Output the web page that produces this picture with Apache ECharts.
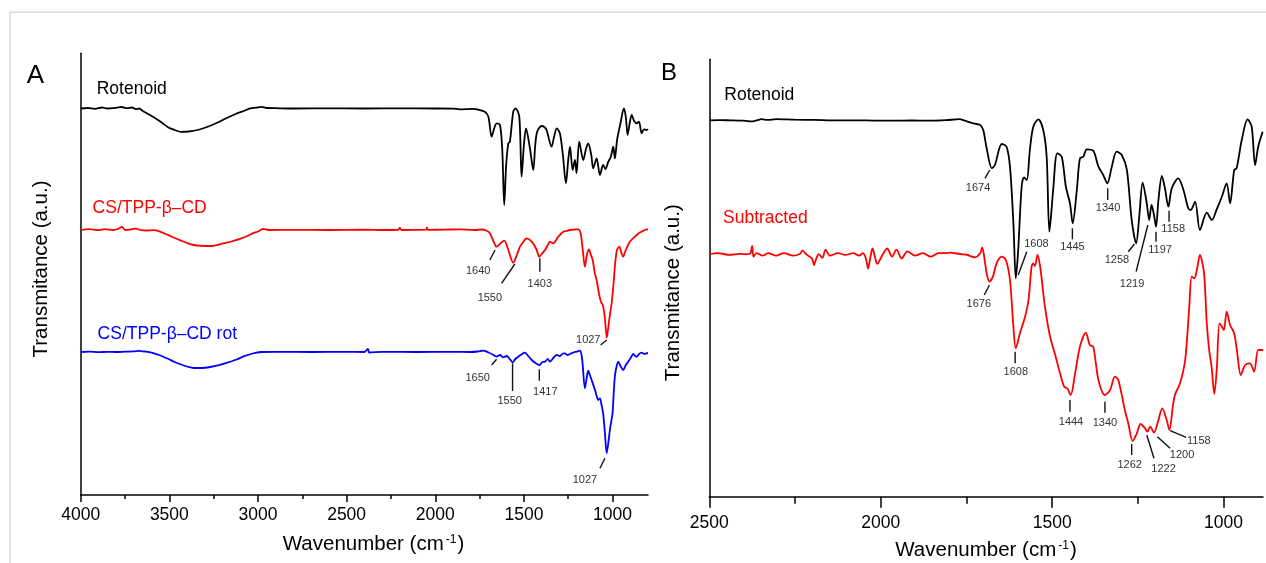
<!DOCTYPE html>
<html><head><meta charset="utf-8">
<script src="https://cdn.jsdelivr.net/npm/echarts@6/dist/echarts.min.js"></script>
<style>html,body{margin:0;padding:0;background:#fff}#c{width:1266px;height:563px}</style>
</head><body><div id="c"></div>
<script>
const FONT = '"Liberation Sans", Arial, Helvetica, sans-serif';

// ---- Tick values ----
const ticksA = [4000, 3500, 3000, 2500, 2000, 1500, 1000];
const minorA = [3750, 3250, 2750, 2250, 1750, 1250];
const ticksB = [2500, 2000, 1500, 1000];
const minorB = [2250, 1750, 1250];

// ---- Panel A spectra: [wavenumber, transmittance (a.u., offset)] ----
const rotenoidA = [[4000,386.5],[3960,387],[3920,386.2],[3880,387.5],[3850,386.5],[3800,387.2],[3770,388],[3740,386.8],[3710,387.5],[3690,385.8],[3670,386.5],[3650,384],[3620,381],[3577,376.5],[3540,372],[3505,367.5],[3470,365],[3434,363.2],[3390,363.5],[3340,365],[3280,368.5],[3221,373],[3170,377.5],[3126,381],[3080,384],[3043,386.6],[3010,387.3],[2980,388.2],[2950,387],[2900,386.8],[2800,386.5],[2600,386.7],[2400,386.5],[2200,386.6],[2000,386.5],[1900,386.4],[1861,385.7],[1790,386.2],[1760,385.5],[1720,383.3],[1700,378],[1682,358.3],[1665,368],[1654,371.7],[1635,370],[1622,345],[1611,290],[1600,330],[1588,351.7],[1579,353.3],[1560,383.3],[1547,386.7],[1526,378.3],[1513,318.3],[1500,350],[1488,366.7],[1466,346.7],[1447,325],[1436,350],[1425,363.3],[1400,369],[1385,368],[1372,365],[1344,348.3],[1330,358],[1315,366.7],[1297,361.7],[1280,340],[1263,311.7],[1250,335],[1240,348.3],[1225,325],[1212,335],[1203,321.7],[1188,353.3],[1165,335],[1150,346],[1137,351.7],[1120,340],[1109,326.7],[1090,336.7],[1071,320],[1053,330],[1040,326],[1024,333.3],[1010,338],[996,348.3],[987,336.7],[974,355.7],[955,372],[936,386.7],[925,378],[915,360],[903,372],[892,380],[878,374],[864,371.7],[851,373.3],[836,361.7],[823,365.7],[808,365],[800,366]];

const csTppA = [[4000,265.2],[3950,265.8],[3900,264.8],[3862,265.9],[3820,265],[3790,266],[3768,268.2],[3750,265],[3721,265.5],[3690,266.3],[3660,264.8],[3627,264.5],[3590,264.8],[3553,263.4],[3505,259.8],[3470,257],[3434,254.4],[3400,252],[3363,250],[3320,249.2],[3269,249],[3230,250],[3197,251.6],[3150,253.5],[3102,256.2],[3060,259],[3031,261.6],[3000,263.5],[2972,266],[2940,265],[2800,265.2],[2600,265],[2400,265.3],[2300,265],[2210,265.2],[2200,267],[2190,265],[2100,265.2],[2050,265.4],[2047,267.5],[2040,265.2],[1950,265.3],[1861,265.7],[1780,265],[1740,265.5],[1710,264.3],[1692,261.7],[1670,253],[1654,248.3],[1630,252],[1611,254.3],[1588,245],[1560,232.3],[1540,240],[1522,248.3],[1500,254],[1485,256.7],[1456,253.3],[1430,246],[1413,238.3],[1400,241],[1381,245],[1365,250],[1353,253.3],[1335,251.7],[1306,258.3],[1278,263.3],[1260,264],[1240,265],[1210,265.5],[1194,265.7],[1180,261.7],[1168,245],[1156,228.3],[1145,240],[1133,245.7],[1122,240],[1112,235],[1100,222],[1090,215],[1075,200],[1065,193],[1055,190],[1045,180],[1038,166],[1032,157.5],[1026,165],[1015,180],[1005,192],[995,210],[985,232],[975,245],[962,248.3],[950,242],[940,238.3],[930,243],[921,246.7],[902,253.3],[874,258.3],[850,262],[836,263.3],[808,265.7],[800,265.5]];

const csTppRotA = [[4000,143],[3950,143.3],[3900,142.8],[3850,143.2],[3800,143],[3750,143.4],[3700,143.6],[3672,144.2],[3640,143.5],[3601,142.4],[3550,139.5],[3505,136],[3470,133],[3434,130.5],[3400,128.5],[3363,127],[3320,127],[3269,128],[3220,129.8],[3173,132.3],[3120,135.5],[3078,138.8],[3030,141.5],[2983,143],[2900,143.2],[2700,143],[2500,143.1],[2400,143],[2380,146],[2372,142.5],[2300,143.2],[2100,143],[1900,143.1],[1800,143],[1760,143.5],[1729,144.3],[1700,142.5],[1682,141],[1654,138.3],[1635,140],[1617,137.7],[1597,139],[1580,136],[1564,132.7],[1548,136],[1532,138.3],[1510,141],[1494,142.3],[1475,139],[1456,135],[1435,132],[1413,130],[1395,133],[1381,133.3],[1365,136],[1353,133.3],[1330,138],[1315,140],[1297,139],[1280,141.5],[1269,141.7],[1255,140],[1240,141],[1220,142.5],[1203,143.3],[1184,144.3],[1175,140],[1169,131.7],[1156,106.7],[1145,118],[1137,124.3],[1128,120],[1118,115],[1099,105],[1088,98],[1081,95],[1071,96.7],[1062,90],[1053,81.7],[1043,62],[1033,41.7],[1024,52],[1015,65],[1008,73],[1000,81.7],[994,100],[987,118.3],[978,128],[968,133.3],[955,129],[940,125],[925,130],[912,133.3],[898,137],[883,141],[872,139],[864,138.3],[850,141],[836,142.3],[820,141],[808,141.7],[800,142]];

// ---- Panel B spectra ----
const rotenoidB = [[2500,376.4],[2470,376.6],[2441,376.4],[2400,376],[2373,375.3],[2360,376.5],[2348,377.5],[2330,376.8],[2305,377.5],[2250,377],[2193,376.8],[2140,376.3],[2080,376.4],[2020,376.1],[1967,376],[1910,376.2],[1854,376],[1810,376.5],[1770,377.5],[1755,376],[1742,374.6],[1730,373.4],[1710,371.7],[1701,366.7],[1691,348.4],[1676,328.4],[1667,331.7],[1647,352.7],[1633,350],[1623,330],[1613,273.4],[1606,218.4],[1599,246.7],[1589,310],[1582,319.4],[1574,316.7],[1565,346.7],[1555,370],[1540,377.4],[1526,366.7],[1516,340],[1508,265],[1497,306.7],[1485,343.4],[1472,340],[1460,310],[1448,293.4],[1440,273.4],[1428,306.7],[1419,338.4],[1409,340],[1399,347.4],[1380,346],[1365,330],[1351,321.7],[1339,313.4],[1326,330],[1312,345],[1297,341.7],[1282,326.7],[1268,276.7],[1255,253.4],[1246,280],[1236,314],[1224,293.4],[1217,276.7],[1210,291.7],[1203,281.7],[1197,270],[1190,296.7],[1180,320.7],[1171,308.4],[1161,290],[1151,308.4],[1132,318.4],[1117,306.7],[1103,288.4],[1096,286.7],[1083,295],[1069,266.7],[1049,284],[1034,276.7],[1020,287.4],[1005,300],[991,313.4],[981,293.4],[969,326.7],[962,328.4],[947,356.7],[930,377.4],[918,370],[908,331.7],[899,350],[886,365]];

const subtractedB = [[2500,242.5],[2475,243.6],[2441,241.8],[2410,242.8],[2390,242.5],[2380,243.5],[2375,250.7],[2371,240],[2362,243.6],[2345,241],[2328,243.6],[2305,241],[2283,243.6],[2255,241],[2235,243],[2229,246.1],[2215,241.8],[2200,238],[2195,231.7],[2188,238],[2181,242.5],[2170,238.9],[2161,247.1],[2148,241],[2125,243.6],[2103,241.8],[2080,243.6],[2063,241],[2052,243.6],[2043,238],[2037,228.1],[2030,240],[2024,248.2],[2017,240],[2010,232.8],[1995,241.8],[1981,248.2],[1967,240],[1954,247.1],[1939,238.2],[1922,245.4],[1900,241],[1877,243.6],[1854,240],[1832,243.6],[1810,243.6],[1798,244],[1769,242.7],[1745,241.7],[1740,240.7],[1725,239.4],[1710,243.4],[1704,249.4],[1699,241.7],[1691,223.4],[1683,215],[1673,220],[1662,233.4],[1647,240],[1635,236.7],[1623,216.7],[1613,170],[1606,148.4],[1594,163.4],[1579,180],[1569,196.7],[1560,230],[1555,233.4],[1550,230.7],[1543,241.7],[1535,230],[1521,190],[1506,160],[1491,141.7],[1477,123.4],[1465,110],[1456,108.4],[1446,101.7],[1433,123.4],[1419,150],[1402,164],[1390,151.7],[1380,150],[1365,116.7],[1346,101.7],[1331,106.7],[1317,120],[1307,116.7],[1288,86.7],[1278,73.4],[1265,55.7],[1253,63.4],[1242,72.7],[1229,68.4],[1222,65],[1214,70],[1203,64],[1190,76.7],[1179,88.4],[1166,76.7],[1158,66.7],[1148,90],[1142,101.7],[1127,113.4],[1112,136.7],[1100,190],[1093,220],[1085,218.4],[1078,226.7],[1069,241.7],[1057,223.4],[1049,173.4],[1042,146.7],[1035,130],[1027,102.7],[1020,126.7],[1012,173.4],[1005,170],[999,166.7],[991,185],[981,171.7],[969,163.4],[960,143.4],[950,121.7],[937,131.7],[923,133.4],[911,125],[899,146.7],[888,146.7],[885,146]];

// ---- Peak annotations: [label, textX, textY, lineX1, lineY1, lineX2, lineY2] in data units ----
const peaksRedA = [
  ['1640', 1758, 224, 1692, 235, 1663, 245],
  ['1550', 1692, 196.7, 1626, 211.7, 1551, 231],
  ['1403', 1410, 211, 1410, 223.3, 1410, 236.7],
  ['1027', 1137, 155, 1067, 150, 1033, 155]
];
const peaksBlueA = [
  ['1650', 1761, 116.7, 1682, 130, 1654, 135.7],
  ['1550', 1580, 94, 1564, 104, 1564, 131.7],
  ['1417', 1379, 103.3, 1413, 114.3, 1413, 125.7],
  ['1027', 1156, 15, 1071, 26.7, 1043, 36.7]
];
const peaksBlackB = [
  ['1674', 1716, 308.4, 1696, 318.4, 1682, 326.7],
  ['1608', 1546, 252.5, 1599, 221.7, 1574, 245],
  ['1445', 1441, 249.7, 1441, 268.4, 1441, 257.4],
  ['1340', 1337, 289, 1338, 308.4, 1338, 296.7],
  ['1258', 1311, 237.2, 1278, 245, 1260, 252.7],
  ['1219', 1267, 213, 1255, 225, 1221, 271.7],
  ['1197', 1185, 246.5, 1197, 265, 1197, 255],
  ['1158', 1147, 267.4, 1159, 286, 1159, 275]
];
const peaksRedB = [
  ['1676', 1714, 192.9, 1698, 201.7, 1683, 211.7],
  ['1608', 1606, 125, 1608, 145, 1608, 133.4],
  ['1444', 1445, 75, 1448, 96.7, 1448, 85],
  ['1340', 1346, 74.2, 1346, 95, 1346, 84],
  ['1262', 1274, 31.7, 1268, 52.7, 1268, 41.7],
  ['1222', 1175, 27.5, 1224, 61.7, 1203, 38.4],
  ['1200', 1121, 41.7, 1193, 60, 1156, 48.4],
  ['1158', 1072, 55.9, 1156, 66, 1109, 59.4]
];

const chart = echarts.init(document.getElementById('c'), null, {renderer: 'canvas'});

function lineSeries(name, data, color, xi, yi) {
  return {
    name, type: 'line', data, xAxisIndex: xi, yAxisIndex: yi,
    showSymbol: false, symbol: 'none', smooth: 0.3, silent: true,
    lineStyle: {color, width: 1.8}, z: 3
  };
}
function peakSeries(arr, xi, yi) {
  return {
    type: 'custom', xAxisIndex: xi, yAxisIndex: yi, silent: true, clip: false, z: 4,
    data: arr.map(a => a.slice(1)),
    encode: {x: [0, 2, 4], y: [1, 3, 5]},
    renderItem: (params, api) => {
      const t = api.coord([api.value(0), api.value(1)]);
      const p1 = api.coord([api.value(2), api.value(3)]);
      const p2 = api.coord([api.value(4), api.value(5)]);
      return {type: 'group', children: [
        {type: 'line', shape: {x1: p1[0], y1: p1[1], x2: p2[0], y2: p2[1]}, style: {stroke: '#111', lineWidth: 1.4}},
        {type: 'text', x: t[0], y: t[1], style: {text: arr[params.dataIndex][0], fill: '#333', fontSize: 11, fontFamily: FONT, align: 'center', verticalAlign: 'middle'}}
      ]};
    }
  };
}
const axLine = {color: '#000', width: 1.5};
function mainX(grid, min, max, ticks, len, margin) {
  return {gridIndex: grid, type: 'value', min, max, inverse: true, position: 'bottom',
    axisLine: {show: true, onZero: false, lineStyle: axLine},
    axisTick: {show: true, customValues: ticks, length: len, lineStyle: axLine},
    axisLabel: {show: true, customValues: ticks, margin, fontSize: 17.5, color: '#000', fontFamily: FONT,
      formatter: v => String(v)},
    splitLine: {show: false}};
}
function minorX(grid, min, max, ticks, len) {
  return {gridIndex: grid, type: 'value', min, max, inverse: true, position: 'bottom', offset: 0,
    axisLine: {show: false},
    axisTick: {show: true, customValues: ticks, length: len, lineStyle: axLine},
    axisLabel: {show: false}, splitLine: {show: false}};
}
function yAx(grid, max) {
  return {gridIndex: grid, type: 'value', min: 0, max,
    axisLine: {show: true, onZero: false, lineStyle: axLine},
    axisTick: {show: false}, axisLabel: {show: false}, splitLine: {show: false}};
}
function txt(x, y, text, size, color, align) {
  return {type: 'text', x, y, silent: true,
    style: {text, fontSize: size, fontFamily: FONT, fill: color, align: align || 'left', verticalAlign: 'middle'}};
}
const titleRich = {
  a: {fontSize: 20.5, fontFamily: FONT, fill: '#000', color: '#000'},
  s: {fontSize: 12, fontFamily: FONT, fill: '#000', color: '#000', verticalAlign: 'top', padding: [0, 1, 0, 2]}
};

chart.setOption({
  animation: false,
  backgroundColor: '#fff',
  grid: [
    {left: 80.7, top: 53.3, width: 567.3, height: 441.7},
    {left: 709.3, top: 59.3, width: 553.7, height: 437.4}
  ],
  xAxis: [
    mainX(0, 800, 4000, ticksA, 7, 11),
    minorX(0, 800, 4000, minorA, 4),
    mainX(1, 885, 2500, ticksB, 11, 17.5),
    minorX(1, 885, 2500, minorB, 7)
  ],
  yAxis: [yAx(0, 441.7), yAx(1, 437.4)],
  series: [
    lineSeries('Rotenoid', rotenoidA, '#000000', 0, 0),
    lineSeries('CS/TPP-β–CD', csTppA, '#ff0000', 0, 0),
    lineSeries('CS/TPP-β–CD rot', csTppRotA, '#0000ff', 0, 0),
    lineSeries('Rotenoid', rotenoidB, '#000000', 2, 1),
    lineSeries('Subtracted', subtractedB, '#ff0000', 2, 1),
    peakSeries(peaksRedA, 0, 0),
    peakSeries(peaksBlueA, 0, 0),
    peakSeries(peaksBlackB, 2, 1),
    peakSeries(peaksRedB, 2, 1)
  ],
  graphic: [
    {type: 'rect', silent: true, z: -10, shape: {x: 10, y: 12.3, width: 1300, height: 620}, style: {fill: 'none', stroke: '#dcdcdc', lineWidth: 1.5}},
    txt(35.5, 76.2, 'A', 26, '#000', 'center'),
    txt(669, 73.7, 'B', 24, '#000', 'center'),
    txt(96.7, 89.5, 'Rotenoid', 17.5, '#000'),
    txt(92.6, 208.3, 'CS/TPP-β–CD', 17.5, '#ff0000'),
    txt(97.6, 334, 'CS/TPP-β–CD rot', 17.5, '#0000ff'),
    txt(724.3, 95, 'Rotenoid', 17.5, '#000'),
    txt(723, 218.3, 'Subtracted', 17.5, '#ff0000'),
    {type: 'text', x: 41, y: 269, rotation: Math.PI / 2, silent: true,
      style: {text: 'Transmitance (a.u.)', fontSize: 20.5, fontFamily: FONT, fill: '#000', align: 'center', verticalAlign: 'middle'}},
    {type: 'text', x: 673.5, y: 292.7, rotation: Math.PI / 2, silent: true,
      style: {text: 'Transmitance (a.u.)', fontSize: 20.5, fontFamily: FONT, fill: '#000', align: 'center', verticalAlign: 'middle'}},
    {type: 'text', x: 373.5, y: 544, silent: true,
      style: {text: '{a|Wavenumber (cm}{s|-1}{a|)}', rich: titleRich, align: 'center', verticalAlign: 'middle'}},
    {type: 'text', x: 986, y: 550, silent: true,
      style: {text: '{a|Wavenumber (cm}{s|-1}{a|)}', rich: titleRich, align: 'center', verticalAlign: 'middle'}}
  ]
});
</script>
</body></html>
